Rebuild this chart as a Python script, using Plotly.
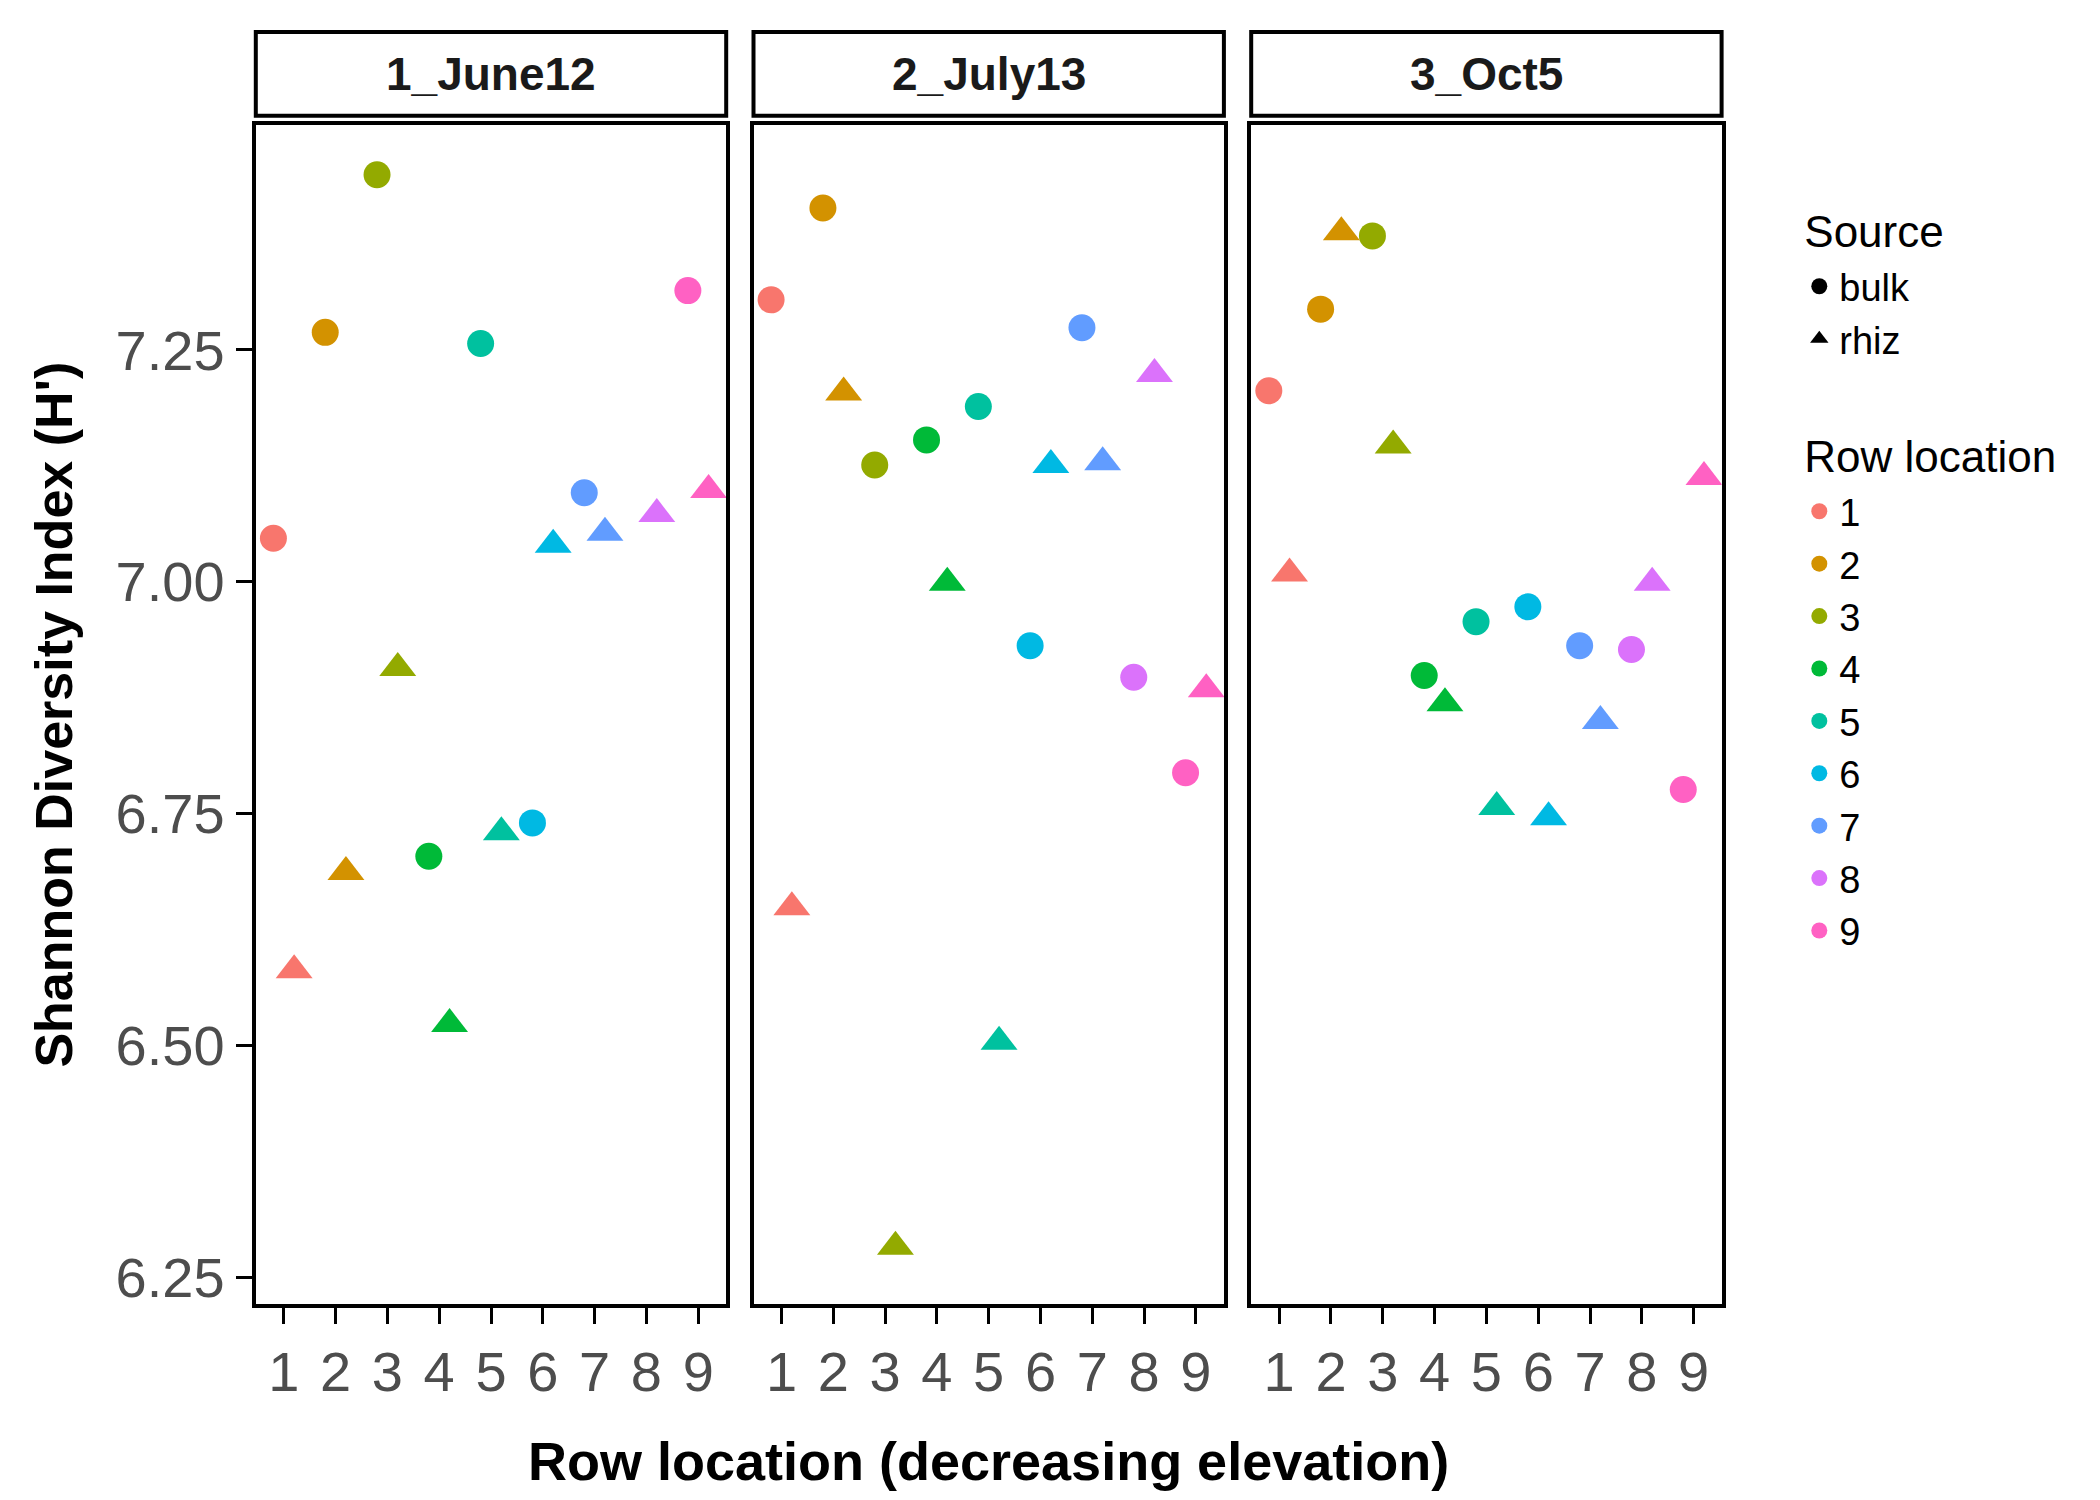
import plotly.graph_objects as go

# === DATA ===
dates = ["1_June12", "2_July13", "3_Oct5"]
rows = [1, 2, 3, 4, 5, 6, 7, 8, 9]
colors = ["#F8766D", "#D39200", "#93AA00", "#00BA38", "#00C19F",
          "#00B9E3", "#619CFF", "#DB72FB", "#FF61C3"]

bulk = {
    "1_June12": [7.047, 7.269, 7.439, 6.704, 7.257, 6.740, 7.096, None, 7.314],
    "2_July13": [7.304, 7.403, 7.126, 7.153, 7.189, 6.931, 7.274, 6.897, 6.794],
    "3_Oct5":   [7.206, 7.294, 7.373, 6.899, 6.957, 6.973, 6.931, 6.927, 6.776],
}
rhiz = {
    "1_June12": [6.581, 6.687, 6.907, 6.523, 6.730, 7.040, 7.053, 7.073, 7.099],
    "2_July13": [6.649, 7.204, 6.283, 6.999, 6.504, 7.126, 7.129, 7.224, 6.884],
    "3_Oct5":   [7.009, 7.377, 7.147, 6.869, 6.757, 6.746, 6.850, 6.999, 7.113],
}

FONT = "Liberation Sans"
domains = [(0.118, 0.342), (0.355, 0.579), (0.592, 0.816)]
ydom = (0.133, 0.922)

fig = go.Figure()

for i, d in enumerate(dates):
    ax = "" if i == 0 else str(i + 1)
    for src, vals, sym, off in [("bulk", bulk[d], "circle", -0.2), ("rhiz", rhiz[d], "triangle-up", 0.2)]:
        fig.add_trace(go.Scatter(
            x=[r + off for r in rows], y=vals, mode="markers",
            marker=dict(color=colors, symbol=sym, size=27 if sym == "circle" else 32),
            xaxis="x" + ax, yaxis="y" + ax, showlegend=False, hoverinfo="x+y"))
    fig.update_layout(**{
        "xaxis" + ax: dict(domain=domains[i], range=[0.46, 9.54], tickvals=rows,
                           showgrid=False, zeroline=False, showline=True, mirror=True,
                           linecolor="black", linewidth=4, ticks="outside", ticklen=16,
                           tickwidth=3, tickcolor="black", anchor="y" + ax,
                           tickfont=dict(size=56, color="#4D4D4D", family=FONT)),
        "yaxis" + ax: dict(domain=ydom, range=[6.221, 7.493], tickvals=[6.25, 6.5, 6.75, 7.0, 7.25],
                           ticktext=["6.25", "6.50", "6.75", "7.00", "7.25"],
                           showgrid=False, zeroline=False, showline=True, mirror=True,
                           linecolor="black", linewidth=4, anchor="x" + ax,
                           ticks="outside" if i == 0 else "", ticklen=16, tickwidth=3,
                           tickcolor="black", showticklabels=(i == 0),
                           tickfont=dict(size=56, color="#4D4D4D", family=FONT)),
    })
    fig.add_shape(type="rect", xref="paper", yref="paper", x0=domains[i][0], x1=domains[i][1],
                  y0=0.928, y1=0.984, line=dict(color="black", width=4), fillcolor="white",
                  layer="below")
    fig.add_annotation(text="<b>%s</b>" % d, xref="paper", yref="paper",
                       x=(domains[i][0] + domains[i][1]) / 2, y=0.956,
                       xanchor="center", yanchor="middle", showarrow=False,
                       font=dict(size=46, color="#1A1A1A", family=FONT))

# legend entries
fig.add_trace(go.Scatter(x=[None], y=[None], mode="markers", name="bulk",
                         marker=dict(color="black", symbol="circle", size=26),
                         legendgroup="src", legendgrouptitle_text="Source"))
fig.add_trace(go.Scatter(x=[None], y=[None], mode="markers", name="rhiz",
                         marker=dict(color="black", symbol="triangle-up", size=30),
                         legendgroup="src", legendgrouptitle_text="Source"))
for r, c in zip(rows, colors):
    fig.add_trace(go.Scatter(x=[None], y=[None], mode="markers", name=str(r),
                             marker=dict(color=c, symbol="circle", size=26),
                             legendgroup="row", legendgrouptitle_text="Row location"))

fig.add_annotation(text="<b>Row location (decreasing elevation)</b>", xref="paper", yref="paper",
                   x=0.467, y=0.028, xanchor="center", yanchor="middle", showarrow=False,
                   font=dict(size=54, color="black", family=FONT))
fig.add_annotation(text="<b>Shannon Diversity Index (H')</b>", xref="paper", yref="paper",
                   x=0.022, y=ydom[0] + (ydom[1] - ydom[0]) / 2, textangle=-90,
                   xanchor="center", yanchor="middle", showarrow=False,
                   font=dict(size=52, color="black", family=FONT))

fig.update_layout(
    width=2100, height=1500, margin=dict(l=0, r=0, t=0, b=0),
    plot_bgcolor="white", paper_bgcolor="white",
    font=dict(family=FONT),
    legend=dict(x=0.853, y=0.875, yanchor="top", tracegroupgap=60,
                font=dict(size=38, color="black"),
                grouptitlefont=dict(size=44, color="black"), itemsizing="trace"),
)

fig.write_html("out.html")
